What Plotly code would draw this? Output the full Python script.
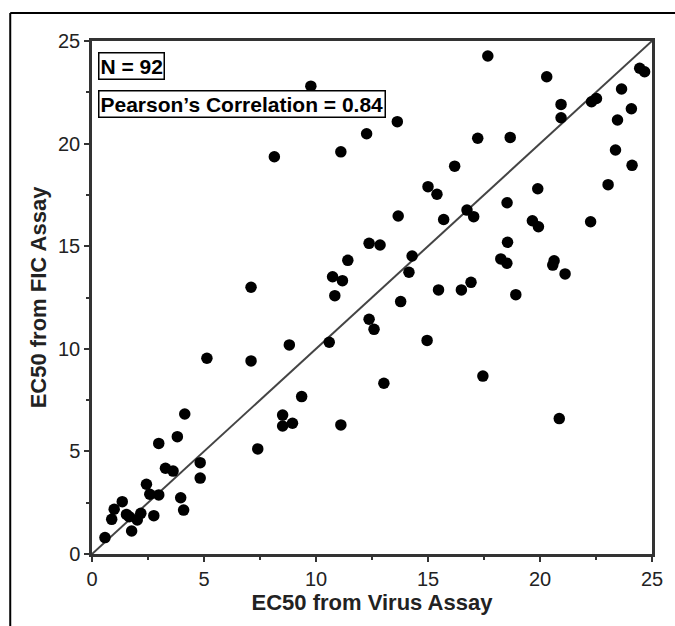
import plotly.graph_objects as go

# EC50 values
virus_ec50 = [8.14, 9.77, 13.63, 12.26, 11.11, 16.19, 15.0, 15.4, 13.67, 15.7,
              16.74, 17.67, 20.3, 24.45, 24.67, 23.64, 22.3, 22.52, 20.94, 20.94,
              24.08, 23.46, 17.22, 18.67, 23.37, 24.11, 23.04, 19.9, 18.53, 17.04,
              19.66, 19.93, 22.26, 18.55, 18.25, 18.52, 20.63, 20.57, 21.12, 16.92,
              16.49, 18.92, 17.45, 20.86, 12.37, 12.86, 11.42, 14.29, 14.15, 10.74,
              11.18, 10.84, 15.47, 13.78, 12.37, 12.59, 14.96, 8.81, 10.59, 13.03,
              9.36, 7.1, 5.13, 7.1, 4.14, 2.98, 3.81, 7.4, 4.83, 4.83,
              3.28, 3.62, 2.43, 2.58, 2.98, 3.96, 4.09, 1.35, 0.99, 0.88,
              1.54, 1.66, 2.18, 2.02, 2.76, 1.77, 0.58, 8.51, 8.51, 8.95,
              11.11]
fic_ec50 = [19.36, 22.8, 21.07, 20.48, 19.6, 18.9, 17.9, 17.53, 16.47, 16.3,
            16.76, 24.27, 23.26, 23.67, 23.5, 22.66, 22.04, 22.2, 21.91, 21.26,
            21.7, 21.15, 20.26, 20.3, 19.69, 18.94, 18.0, 17.8, 17.12, 16.44,
            16.24, 15.95, 16.19, 15.19, 14.38, 14.17, 14.29, 14.08, 13.65, 13.24,
            12.87, 12.64, 8.67, 6.6, 15.14, 15.06, 14.31, 14.52, 13.73, 13.51,
            13.32, 12.59, 12.87, 12.3, 11.44, 10.95, 10.41, 10.19, 10.32, 8.32,
            7.67, 13.0, 9.54, 9.41, 6.82, 5.39, 5.72, 5.12, 4.45, 3.7,
            4.18, 4.04, 3.4, 2.91, 2.88, 2.74, 2.14, 2.55, 2.18, 1.69,
            1.93, 1.82, 1.98, 1.66, 1.87, 1.12, 0.8, 6.77, 6.24, 6.37,
            6.29]
identity_line = [0, 25]
tick_values = [0, 5, 10, 15, 20, 25]
n_label = "N = 92"
corr_label = "Pearson\u2019s Correlation = 0.84"

FONT = "Liberation Sans, Arial, sans-serif"

fig = go.Figure()
fig.add_trace(go.Scatter(x=identity_line, y=identity_line, mode="lines",
                         line=dict(color="#444444", width=2), hoverinfo="skip",
                         showlegend=False))
fig.add_trace(go.Scatter(x=virus_ec50, y=fic_ec50, mode="markers",
                         marker=dict(color="black", size=11.5), showlegend=False))

axis_common = dict(range=[0, 25], tickvals=tick_values, ticks="outside", ticklen=5,
                   tickwidth=2, tickcolor="#333333", showline=True, linewidth=2.5,
                   linecolor="#333333", mirror=True, showgrid=False, zeroline=False,
                   tickfont=dict(family=FONT, size=20, color="#222222"),
                   minor=dict(dtick=2.5, ticks="outside", ticklen=3, tickwidth=2,
                              tickcolor="#333333", showgrid=False))

fig.update_xaxes(**axis_common,
                 title=dict(text="<b>EC50 from Virus Assay</b>", standoff=4,
                            font=dict(family=FONT, size=22, color="#222222")))
fig.update_yaxes(**axis_common,
                 title=dict(text="<b>EC50 from FIC Assay</b>", standoff=6,
                            font=dict(family=FONT, size=22, color="#222222")))

fig.add_annotation(x=0.27, y=24.46, xref="x", yref="y", xanchor="left", yanchor="top",
                   text="<b>" + n_label + "</b>", showarrow=False,
                   font=dict(family=FONT, size=21, color="black"),
                   bordercolor="black", borderwidth=1.5, borderpad=1, bgcolor="white")
fig.add_annotation(x=0.27, y=22.6, xref="x", yref="y", xanchor="left", yanchor="top",
                   text="<b>" + corr_label + "</b>", showarrow=False,
                   font=dict(family=FONT, size=21, color="black"),
                   bordercolor="black", borderwidth=1.5, borderpad=1, bgcolor="white")

# outer figure frame (top and left edges)
fig.add_shape(type="line", xref="paper", yref="paper", x0=-0.146, x1=1.05,
              y0=1.0546, y1=1.0546, line=dict(color="black", width=2))
fig.add_shape(type="line", xref="paper", yref="paper", x0=-0.146, x1=-0.146,
              y0=1.0546, y1=-0.15, line=dict(color="black", width=2))

fig.update_layout(width=675, height=626, margin=dict(l=92, r=21, t=41, b=72),
                  paper_bgcolor="white", plot_bgcolor="white",
                  font=dict(family=FONT))

fig.write_html("out.html")
